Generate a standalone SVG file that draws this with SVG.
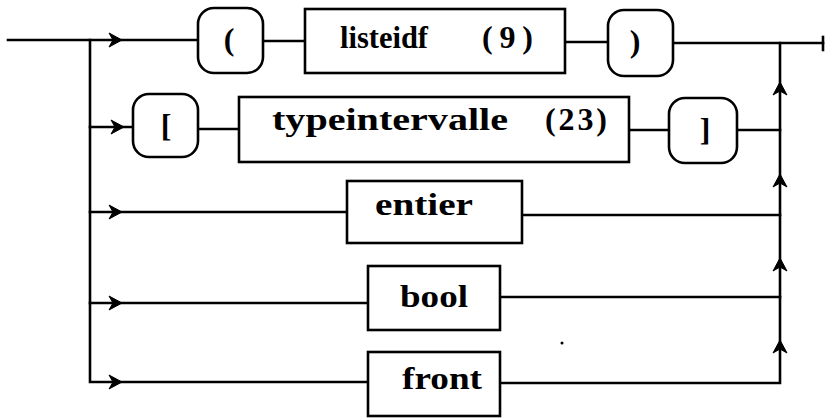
<svg xmlns="http://www.w3.org/2000/svg" xmlns:xlink="http://www.w3.org/1999/xlink" width="828" height="418" viewBox="0 0 828 418">
<style>
.ln{stroke:#000;stroke-width:2.6;fill:none;stroke-linecap:square}
.bx{stroke:#000;stroke-width:2.6;fill:#fff}
.t{font-family:"Liberation Serif","DejaVu Serif",serif;font-weight:bold;font-size:32px;fill:#000}
.s{font-family:"Liberation Serif","DejaVu Serif",serif;font-weight:bold;font-size:32px;fill:#000;text-anchor:middle}
</style>
<defs>
<path id="ar" d="M0,0 L-13,-7 L-9,0 L-13,7 Z" fill="#000" stroke="#000" stroke-width="1" stroke-linejoin="round"/>
</defs>
<rect width="828" height="418" fill="#fff"/>
<g id="connectors">
<path class="ln" d="M8,40 H198"/>
<path class="ln" d="M90,40 V382 H368"/>
<path class="ln" d="M90,127 H133"/>
<path class="ln" d="M90,212 H347"/>
<path class="ln" d="M90,303 H368"/>
<path class="ln" d="M263,41 H305"/>
<path class="ln" d="M565,42 H608"/>
<path class="ln" d="M673,43 H823"/>
<path class="ln" d="M823,37 V50"/>
<path class="ln" d="M198,129 H239"/>
<path class="ln" d="M629,130 H669"/>
<path class="ln" d="M737,130 H780"/>
<path class="ln" d="M522,215 H780"/>
<path class="ln" d="M500,297 H780"/>
<path class="ln" d="M500,383 H780 V43"/>
<use xlink:href="#ar" transform="translate(122,40)"/>
<use xlink:href="#ar" transform="translate(124,127)"/>
<use xlink:href="#ar" transform="translate(122,212)"/>
<use xlink:href="#ar" transform="translate(122,303)"/>
<use xlink:href="#ar" transform="translate(122,382)"/>
<use xlink:href="#ar" transform="translate(780,82) rotate(-90)"/>
<use xlink:href="#ar" transform="translate(780,174) rotate(-90)"/>
<use xlink:href="#ar" transform="translate(780,258) rotate(-90)"/>
<use xlink:href="#ar" transform="translate(780,340) rotate(-90)"/>
<circle cx="562" cy="343" r="1.5" fill="#000"/>
</g>
<g id="lparen">
<rect class="bx" x="198" y="8" width="65" height="65" rx="16"/>
<text class="s" x="229" y="50">(</text>
</g>
<g id="listeidf">
<rect class="bx" x="305" y="9" width="260" height="64"/>
<text class="t" x="340" y="48" textLength="88" lengthAdjust="spacingAndGlyphs">listeidf</text>
<text class="t" x="482" y="48" textLength="51" lengthAdjust="spacing">(9)</text>
</g>
<g id="rparen">
<rect class="bx" x="608" y="10" width="65" height="66" rx="16"/>
<text class="s" x="635" y="52">)</text>
</g>
<g id="lbracket">
<rect class="bx" x="133" y="94" width="65" height="63" rx="16"/>
<text class="s" x="166" y="136">[</text>
</g>
<g id="typeintervalle">
<rect class="bx" x="239" y="97" width="390" height="65"/>
<text class="t" x="272" y="130" textLength="236" lengthAdjust="spacingAndGlyphs">typeintervalle</text>
<text class="t" x="545" y="130" textLength="62" lengthAdjust="spacing">(23)</text>
</g>
<g id="rbracket">
<rect class="bx" x="669" y="98" width="68" height="65" rx="16"/>
<text class="s" x="705" y="140">]</text>
</g>
<g id="entier">
<rect class="bx" x="347" y="181" width="175" height="62"/>
<text class="t" x="375" y="215" textLength="98" lengthAdjust="spacingAndGlyphs">entier</text>
</g>
<g id="bool">
<rect class="bx" x="368" y="266" width="132" height="64"/>
<text class="t" x="400" y="307" textLength="68" lengthAdjust="spacingAndGlyphs">bool</text>
</g>
<g id="front">
<rect class="bx" x="368" y="352" width="132" height="64"/>
<text class="t" x="402" y="389" textLength="80" lengthAdjust="spacingAndGlyphs">front</text>
</g>
</svg>
